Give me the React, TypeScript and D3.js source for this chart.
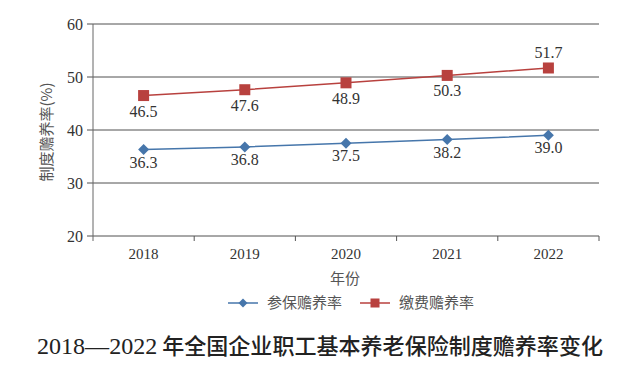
import * as d3 from 'd3'

const years = ['2018', '2019', '2020', '2021', '2022']
const insuredRatio = [36.3, 36.8, 37.5, 38.2, 39.0]
const paidRatio = [46.5, 47.6, 48.9, 50.3, 51.7]
const yTicks = [20, 30, 40, 50, 60]
const seriesNames = ['参保赡养率', '缴费赡养率']
const titleYears = '2018—2022'
const titleText = ' 年全国企业职工基本养老保险制度赡养率变化'

const W = 640
const H = 366
const left = 93
const right = 599
const top = 24
const bottom = 236

const BLUE = '#4676ab'
const RED = '#b8413e'
const serif = '"Liberation Serif", "Times New Roman", serif'
const cjk = '"Noto Sans CJK SC", sans-serif'

// red labels sit under the point except the last one
const paidLabelAbove = [false, false, false, false, true]

function Diamond({ x, y, r = 5.5 }: { x: number; y: number; r?: number }) {
  return <path d={`M${x},${y - r}L${x + r},${y}L${x},${y + r}L${x - r},${y}Z`} fill={BLUE} />
}

function Square({ x, y, s = 11 }: { x: number; y: number; s?: number }) {
  return <rect x={x - s / 2} y={y - s / 2} width={s} height={s} fill={RED} />
}

export default function App() {
  const x = d3.scaleBand<string>().domain(years).range([left, right])
  const y = d3.scaleLinear().domain([20, 60]).range([bottom, top])
  const cx = (yr: string) => (x(yr) ?? 0) + x.bandwidth() / 2

  const line = d3.line<number>()
    .x((_, i) => cx(years[i]))
    .y(v => y(v))

  const boundaries = years.map(yr => x(yr) ?? 0).concat([right])

  return (
    <svg width={W} height={H} style={{ position: 'absolute', left: 0, top: 0, background: '#fff' }}>
      {/* grid + y ticks */}
      {yTicks.map(t => (
        <g key={t}>
          <line x1={left - 6} x2={right} y1={y(t)} y2={y(t)} stroke="#505050" strokeWidth={1} />
          <text x={left - 10} y={y(t)} dy="0.35em" textAnchor="end"
            fontFamily={serif} fontSize={16} fill="#333">{t}</text>
        </g>
      ))}
      <line x1={left} x2={left} y1={top} y2={bottom + 5} stroke="#666" strokeWidth={1} />
      {boundaries.slice(1).map((b, i) => (
        <line key={i} x1={b} x2={b} y1={bottom} y2={bottom + 5} stroke="#555" strokeWidth={1} />
      ))}

      {years.map(yr => (
        <text key={yr} x={cx(yr)} y={bottom + 23} textAnchor="middle"
          fontFamily={serif} fontSize={15} fill="#333">{yr}</text>
      ))}

      <text transform={`translate(47,${(top + bottom) / 2 + 2}) rotate(-90)`} textAnchor="middle"
        dy="0.35em" fontFamily={cjk} fontSize={15} fill="#555">制度赡养率(%)</text>
      <text x={345} y={284} textAnchor="middle" fontFamily={cjk} fontSize={15} fill="#555">年份</text>

      {/* series */}
      <path d={line(insuredRatio) ?? ''} fill="none" stroke={BLUE} strokeWidth={1.5} />
      <path d={line(paidRatio) ?? ''} fill="none" stroke={RED} strokeWidth={1.5} />

      {insuredRatio.map((v, i) => (
        <g key={'b' + i}>
          <Diamond x={cx(years[i])} y={y(v)} />
          <text x={cx(years[i])} y={y(v) + 18} textAnchor="middle"
            fontFamily={serif} fontSize={16} fill="#333">{v.toFixed(1)}</text>
        </g>
      ))}
      {paidRatio.map((v, i) => (
        <g key={'r' + i}>
          <Square x={cx(years[i])} y={y(v)} />
          <text x={cx(years[i])} y={paidLabelAbove[i] ? y(v) - 10 : y(v) + 21} textAnchor="middle"
            fontFamily={serif} fontSize={16} fill="#333">{v.toFixed(1)}</text>
        </g>
      ))}

      {/* legend */}
      <line x1={228} x2={258} y1={303} y2={303} stroke={BLUE} strokeWidth={1.5} />
      <Diamond x={243} y={303} r={4.5} />
      <text x={267} y={303} dy="0.35em" fontFamily={cjk} fontSize={15} fill="#555">{seriesNames[0]}</text>
      <line x1={360} x2={390} y1={303} y2={303} stroke={RED} strokeWidth={1.5} />
      <Square x={375} y={303} s={9} />
      <text x={399} y={303} dy="0.35em" fontFamily={cjk} fontSize={15} fill="#555">{seriesNames[1]}</text>

      {/* caption */}
      <text x={320} y={354} textAnchor="middle" fontSize={22} fill="#222"
        textLength={566} lengthAdjust="spacingAndGlyphs">
        <tspan fontFamily={serif} fontSize={24}>{titleYears}</tspan>
        <tspan fontFamily={cjk} fontWeight={500}>{titleText}</tspan>
      </text>
    </svg>
  )
}
